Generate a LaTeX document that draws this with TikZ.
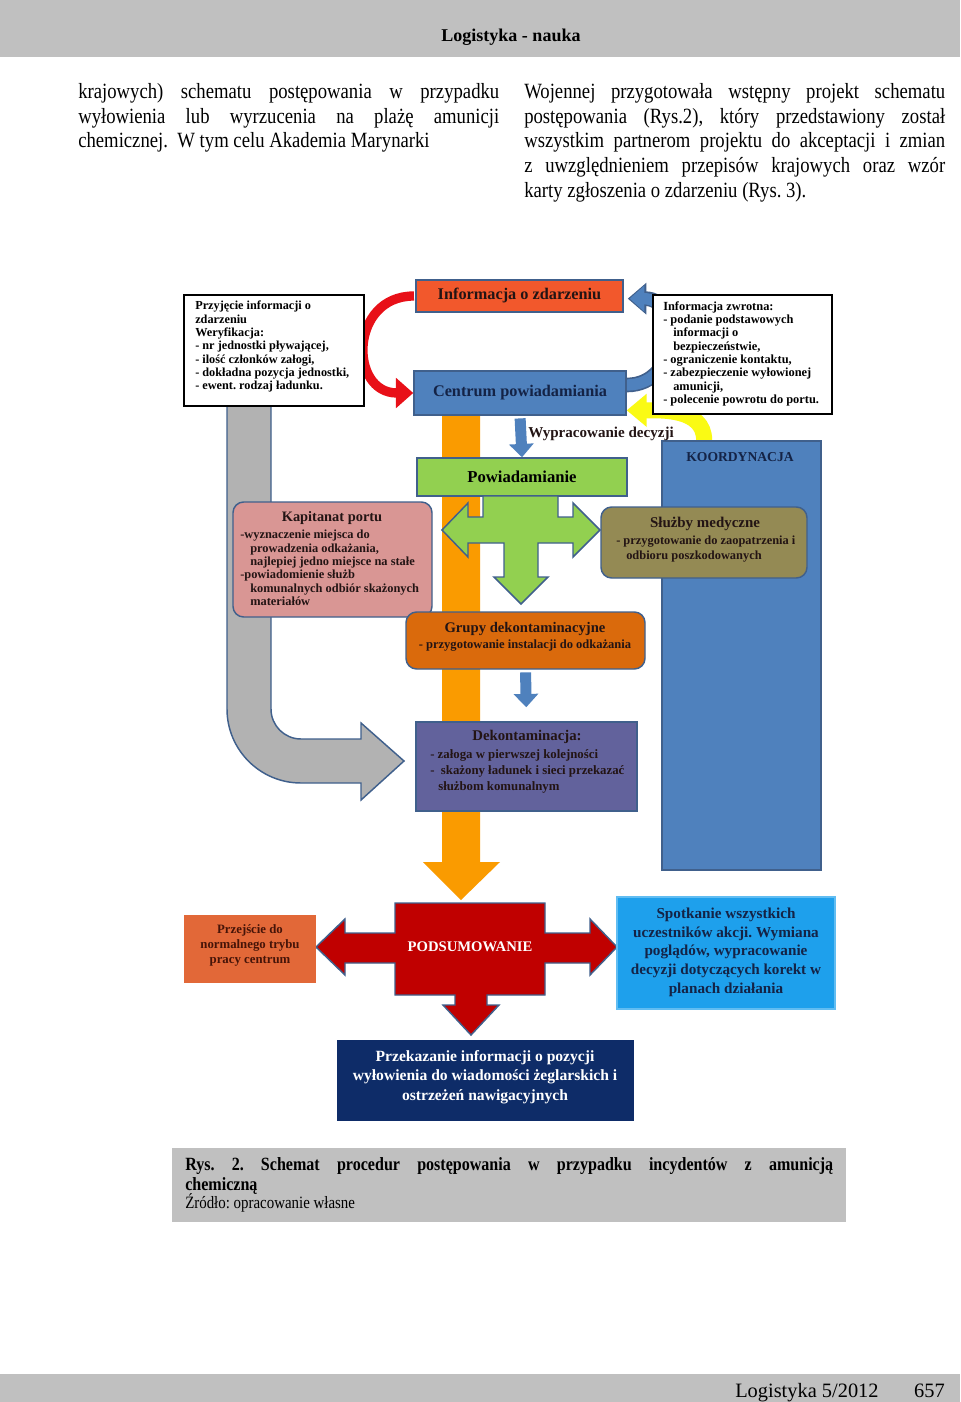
\documentclass[tikz,border=0pt]{standalone}
\usepackage{fontspec}
\setmainfont{Liberation Serif}
\newfontfamily\bodyf[FakeStretch=0.86]{Liberation Serif}
\newfontfamily\dgf{Liberation Serif}
\usetikzlibrary{arrows.meta}
\hyphenpenalty=10000
\exhyphenpenalty=10000
\tolerance=9999
\frenchspacing
\definecolor{hdrgray}{RGB}{192,192,192}
\definecolor{bordc}{RGB}{64,96,140}
\definecolor{infored}{RGB}{242,88,44}
\definecolor{cblue}{RGB}{79,129,189}
\definecolor{cgreen}{RGB}{146,208,80}
\definecolor{cpink}{RGB}{217,150,148}
\definecolor{colive}{RGB}{148,138,84}
\definecolor{corange}{RGB}{218,106,12}
\definecolor{cpurple}{RGB}{98,98,156}
\definecolor{obar}{RGB}{250,155,0}
\definecolor{cgray}{RGB}{178,178,178}
\definecolor{cred}{RGB}{232,16,24}
\definecolor{cyel}{RGB}{250,250,20}
\definecolor{dred}{RGB}{192,0,0}
\definecolor{corg2}{RGB}{226,104,56}
\definecolor{lblue}{RGB}{30,160,236}
\definecolor{navy}{RGB}{14,44,104}
\definecolor{dtext}{RGB}{35,20,20}
\definecolor{ntext}{RGB}{20,35,70}
\definecolor{btext}{RGB}{70,20,8}
\begin{document}
\begin{tikzpicture}[x=0.75pt,y=-0.75pt,
  sz/.style 2 args={minimum width=#1*0.75pt,minimum height=#2*0.75pt},
  blk/.style={draw=bordc,line width=1.1pt,inner sep=0pt},
  rblk/.style={blk,rounded corners=8pt},
  wbox/.style={draw=black,line width=0.9pt,fill=white,inner sep=0pt},
  lft/.style={inner sep=0pt,anchor=north west,align=left},
  body/.style={inner sep=0pt,anchor=north west,text width=315.75pt,align=justify,font=\bodyf\fontsize{16.3}{18.5}\selectfont},
  ttl/.style={inner sep=0pt,font=\dgf\bfseries\fontsize{11}{12}\selectfont},
  big/.style={font=\dgf\bfseries\fontsize{12.2}{14}\selectfont},
  sml/.style={font=\dgf\bfseries\fontsize{9.2}{10}\selectfont},
  barrow/.style={line width=8.25pt,cblue,-{Triangle[width=18pt,length=10pt]}}
]
\fill[white] (0,0) rectangle (960,1402);
\useasboundingbox (0,0) rectangle (960,1402);
% header / footer
\fill[hdrgray] (0,0) rectangle (960,57);
\node[inner sep=0pt,font=\dgf\bfseries\fontsize{13.5}{15}\selectfont] (hdr) at (511,37) {Logistyka - nauka};
\fill[hdrgray] (0,1374) rectangle (960,1402);
\node[inner sep=0pt,anchor=base west,font=\dgf\fontsize{15.3}{17}\selectfont] (ftr) at (735,1397) {Logistyka 5/2012};
\node[inner sep=0pt,anchor=base east,font=\dgf\fontsize{15.3}{17}\selectfont] (pg) at (945,1397) {657};
% body text
\node[body] (colL) at (78,83) {krajowych) schematu postępowania w przypadku\linebreak wyłowienia lub wyrzucenia na plażę amunicji\linebreak chemicznej.\ \ W tym celu Akademia Marynarki};
\node[body] (colR) at (524,83) {Wojennej przygotowała wstępny projekt schematu\linebreak postępowania (Rys.2), który przedstawiony został\linebreak wszystkim partnerom projektu do akceptacji i zmian\linebreak z uwzględnieniem przepisów krajowych oraz wzór\linebreak karty zgłoszenia o zdarzeniu (Rys. 3).};

% ---------- background arrows ----------
% gray L arrow
\filldraw[fill=cgray,draw=bordc,line width=1.1pt] (227,406) -- (227,709) arc(180:90:74) -- (361,783) -- (361,800) -- (404,761) -- (361,723) -- (361,739) -- (301,739) arc(90:180:30) -- (271,406) -- cycle;
% orange bar arrow
\fill[obar] (442,415) -- (480,415) -- (480,862) -- (500,862) -- (461,900) -- (423,862) -- (442,862) -- cycle;

% boxes needed for anchors
\node[blk,fill=infored,sz={207}{32},big,text=dtext] (info) at (519.5,296) {Informacja o zdarzeniu};
\node[blk,fill=cblue,sz={212}{44},big,text=ntext] (centrum) at (520,393) {Centrum powiadamiania};
\node[blk,fill=cblue,sz={159}{429}] (koord) at (741.5,655.5) {};

% curved arrows
\draw[line width=7pt,cred,-{Triangle[width=22pt,length=13pt]}] ([xshift=-1pt]info.west) to[out=180,in=180,looseness=1.7] (centrum.west);
\draw[line width=11pt,bordc,-{Triangle[width=23pt,length=14pt]}] ([yshift=6pt]centrum.east) to[out=0,in=0,looseness=1.6] ([xshift=3pt,yshift=-2pt]info.east);
\draw[line width=8.5pt,cblue,-{Triangle[width=19pt,length=11pt]}] ([yshift=6pt]centrum.east) to[out=0,in=0,looseness=1.6] ([xshift=4.5pt,yshift=-2pt]info.east);
\draw[line width=12pt,cyel,-{Triangle[width=24pt,length=15pt]}] ([xshift=-28pt]koord.north) to[out=90,in=0] ([yshift=-13pt]centrum.east);
% redraw boxes on top
\node[blk,fill=infored,sz={207}{32},big,text=dtext] at (info) {Informacja o zdarzeniu};
\node[blk,fill=cblue,sz={212}{44},big,text=ntext] at (centrum) {Centrum powiadamiania};
\node[blk,fill=cblue,sz={159}{429}] at (koord) {};
\node[inner sep=0pt,font=\dgf\bfseries\fontsize{10.2}{12}\selectfont,text=ntext] (koordt) at (740,457) {KOORDYNACJA};

% white info boxes
\node[wbox,sz={180}{111}] (przyj) at (274,350.5) {};
\node[lft,sml,text=black] (przyjt) at (195,301) {Przyjęcie informacji o\\zdarzeniu\\Weryfikacja:\\- nr jednostki pływającej,\\- ilość członków załogi,\\- dokładna pozycja jednostki,\\- ewent. rodzaj ładunku.};
\node[wbox,sz={179}{119}] (zwrot) at (742.5,354.5) {};
\node[lft,text=black,font=\dgf\bfseries\fontsize{9.3}{10}\selectfont] (zwrott) at (663,301) {Informacja zwrotna:\\- podanie podstawowych\\\hspace*{7.5pt}informacji o\\\hspace*{7.5pt}bezpieczeństwie,\\- ograniczenie kontaktu,\\- zabezpieczenie wyłowionej\\\hspace*{7.5pt}amunicji,\\- polecenie powrotu do portu.};

% Powiadamianie
\node[blk,fill=cgreen,sz={210}{38},text=black,font=\dgf\bfseries\fontsize{12.5}{14}\selectfont] (powiad) at (522,477) {Powiadamianie};
\draw[barrow,shorten <=2pt] (centrum.south) -- (powiad.north);
\node[inner sep=0pt,anchor=west,font=\dgf\bfseries\fontsize{11.3}{12}\selectfont,text=dtext] (wyprac) at (528,434) {Wypracowanie decyzji};

% green cross arrow
\filldraw[fill=cgreen,draw=bordc,line width=1.1pt] (483,496) -- (558,496) -- (558,517) -- (573,517) -- (573,503) -- (600,530) -- (573,557) -- (573,543) -- (538,543) -- (538,577) -- (548,577) -- (521,604) -- (494,577) -- (504,577) -- (504,543) -- (468,543) -- (468,557) -- (442,530) -- (468,503) -- (468,517) -- (483,517) -- cycle;

% Kapitanat portu
\node[rblk,fill=cpink,sz={199}{115}] (kapit) at (332.5,559.5) {};
\node[ttl,text=dtext,font=\dgf\bfseries\fontsize{10.8}{12}\selectfont] (kapitt) at (332,518) {Kapitanat portu};
\node[lft,text=dtext,font=\dgf\bfseries\fontsize{9.3}{10}\selectfont] (kapitb) at (240,530) {-wyznaczenie miejsca do\\\hspace*{7.5pt}prowadzenia odkażania,\\\hspace*{7.5pt}najlepiej jedno miejsce na stałe\\-powiadomienie służb\\\hspace*{7.5pt}komunalnych odbiór skażonych\\\hspace*{7.5pt}materiałów};

% Sluzby medyczne
\node[rblk,fill=colive,sz={206}{71}] (sluzby) at (704,542.5) {};
\node[ttl,text=dtext,font=\dgf\bfseries\fontsize{11.2}{12}\selectfont] (sluzbyt) at (705,524) {Służby medyczne};
\node[lft,text=dtext,font=\dgf\bfseries\fontsize{9.3}{11.25}\selectfont] (sluzbyb) at (616,536) {- przygotowanie do zaopatrzenia i\\\hspace*{7.5pt}odbioru poszkodowanych};

% Grupy dekontaminacyjne
\node[rblk,fill=corange,sz={239}{57}] (grupy) at (525.5,640.5) {};
\node[ttl,text=dtext] (grupyt) at (525,629) {Grupy dekontaminacyjne};
\node[inner sep=0pt,text=dtext,font=\dgf\bfseries\fontsize{9.4}{10}\selectfont] (grupyb) at (525,646) {- przygotowanie instalacji do odkażania};

% Dekontaminacja
\node[blk,fill=cpurple,sz={221}{89}] (dekon) at (526.5,766.5) {};
\draw[barrow,shorten <=2pt,shorten >=10.5pt] (grupy.south) -- (dekon.north);
\node[ttl,text=dtext,font=\dgf\bfseries\fontsize{11.1}{12}\selectfont] (dekont) at (527,737) {Dekontaminacja:};
\node[lft,text=dtext,font=\dgf\bfseries\fontsize{9.6}{12}\selectfont] (dekonb) at (430,749) {- załoga w pierwszej kolejności\\-\ \ skażony ładunek i sieci przekazać\\\hspace*{6pt}służbom komunalnym};

% PODSUMOWANIE
\filldraw[fill=dred,draw=bordc,line width=1.1pt] (395,903) -- (545,903) -- (545,933) -- (590,933) -- (590,919) -- (617,947) -- (590,975) -- (590,963) -- (545,963) -- (545,995) -- (487,995) -- (487,1005) -- (499,1005) -- (471,1035) -- (443,1005) -- (455,1005) -- (455,995) -- (395,995) -- (395,963) -- (345,963) -- (345,975) -- (316,947) -- (345,919) -- (345,933) -- (395,933) -- cycle;
\node[inner sep=0pt,text=white,font=\dgf\bfseries\fontsize{11}{13}\selectfont] (podsum) at (470,947) {PODSUMOWANIE};

\node[fill=corg2,sz={132}{68},inner sep=0pt] (przej) at (250,949) {};
\node[inner sep=0pt,align=center,text=btext,font=\dgf\bfseries\fontsize{9.6}{11.25}\selectfont] (przejt) at (250,945) {Przejście do\\normalnego trybu\\pracy centrum};

\node[fill=lblue,draw=lblue!70!white,line width=0.8pt,sz={218}{112},inner sep=0pt] (spotk) at (726,953) {};
\node[inner sep=0pt,align=center,text=ntext,font=\dgf\bfseries\fontsize{11.4}{14}\selectfont] (spotkt) at (726,952) {Spotkanie wszystkich\\uczestników akcji. Wymiana\\poglądów, wypracowanie\\decyzji dotyczących korekt w\\planach działania};

\node[fill=navy,sz={297}{81},inner sep=0pt] (navyb) at (485.5,1080.5) {};
\node[inner sep=0pt,align=center,text=white,font=\dgf\bfseries\fontsize{11.7}{14.6}\selectfont] (navyt) at (485,1077) {Przekazanie informacji o pozycji\\wyłowienia do wiadomości żeglarskich i\\ostrzeżeń nawigacyjnych};

% caption
\node[fill=hdrgray,sz={674}{74},inner sep=0pt] (capbox) at (509,1185) {};
\node[anchor=north west,inner sep=0pt,text width=486pt,align=justify,font=\bodyf\bfseries\fontsize{14}{15}\selectfont] (capt) at (185,1157) {Rys. 2. Schemat procedur postępowania w przypadku incydentów z amunicją\linebreak chemiczną};
\node[anchor=west,inner sep=0pt,font=\bodyf\fontsize{13}{14}\selectfont] (src) at (185,1203) {Źródło: opracowanie własne};
\end{tikzpicture}
\end{document}
